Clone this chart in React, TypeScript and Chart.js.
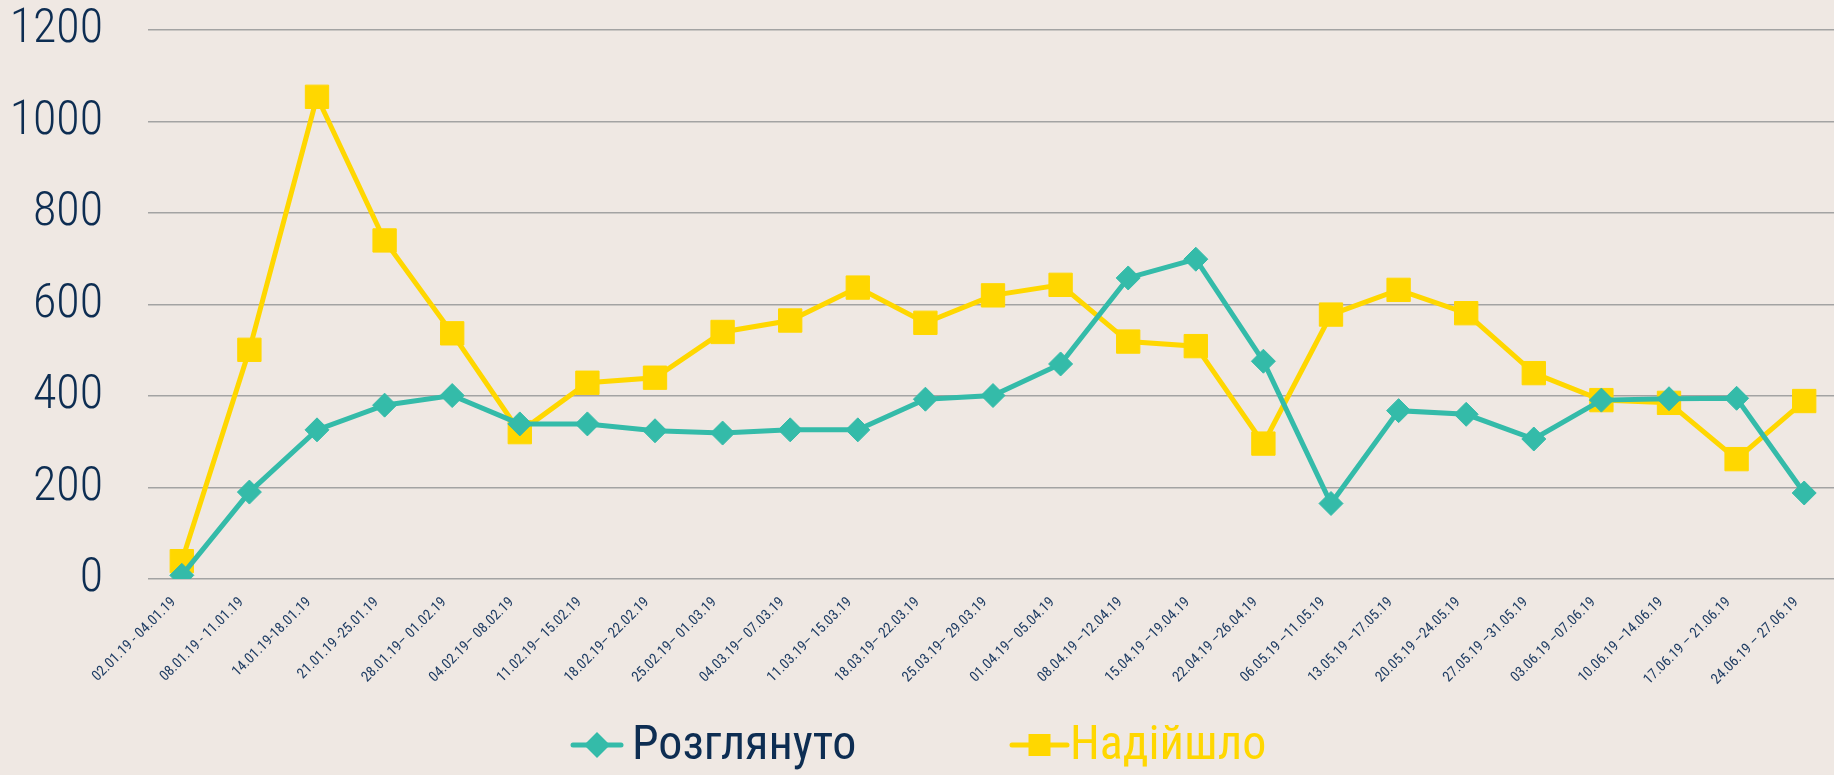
import React, { useEffect, useRef } from "react";
import { Chart, registerables } from "chart.js";

Chart.register(...registerables);

const categories = [
  "02.01.19 - 04.01.19",
  "08.01.19 - 11.01.19",
  "14.01.19-18.01.19",
  "21.01.19 -25.01.19",
  "28.01.19– 01.02.19",
  "04.02.19– 08.02.19",
  "11.02.19– 15.02.19",
  "18.02.19– 22.02.19",
  "25.02.19– 01.03.19",
  "04.03.19– 07.03.19",
  "11.03.19– 15.03.19",
  "18.03.19– 22.03.19",
  "25.03.19– 29.03.19",
  "01.04.19– 05.04.19",
  "08.04.19 –12.04.19",
  "15.04.19 –19.04.19",
  "22.04.19 –26.04.19",
  "06.05.19 –11.05.19",
  "13.05.19 –17.05.19",
  "20.05.19 –24.05.19",
  "27.05.19 –31.05.19",
  "03.06.19 –07.06.19",
  "10.06.19 –14.06.19",
  "17.06.19 – 21.06.19",
  "24.06.19 – 27.06.19",
];

const reviewed = [8, 190, 326, 380, 401, 339, 339, 324, 319, 326, 326, 393, 401, 470, 658, 699, 476, 165, 368, 360, 306, 391, 394, 395, 188];
const received = [39, 501, 1054, 740, 537, 321, 429, 440, 540, 565, 637, 560, 620, 643, 519, 509, 296, 578, 632, 581, 450, 391, 385, 262, 389];

const seriesNames = ["Розглянуто", "Надійшло"];
const yMin = 0;
const yMax = 1200;
const yStep = 200;

const TEAL = "#34bba9";
const YELLOW = "#ffd700";
const NAVY = "#0d2d52";
const BG = "#efe8e3";

// Excel-style plot area: category band extends slightly past the canvas edge
const PLOT_RIGHT = 1838;

const widenPlugin = {
  id: "widenPlot",
  afterLayout(chart: any) {
    chart.chartArea.right = PLOT_RIGHT;
    chart.chartArea.width = PLOT_RIGHT - chart.chartArea.left;
    const x = chart.scales.x;
    x.right = PLOT_RIGHT;
    x.width = PLOT_RIGHT - x.left;
    x.configure();
  },
};

const legendPlugin = {
  id: "customLegend",
  afterDraw(chart: any) {
    const ctx = chart.ctx;
    const y = 745;
    const items = [
      { lineX1: 573, lineX2: 621, textX: 632, color: TEAL, textColor: NAVY, style: "diamond", label: seriesNames[0] },
      { lineX1: 1012, lineX2: 1067, textX: 1070, color: YELLOW, textColor: YELLOW, style: "square", label: seriesNames[1] },
    ];
    ctx.save();
    items.forEach((it) => {
      ctx.strokeStyle = it.color;
      ctx.lineWidth = 5;
      ctx.lineCap = "round";
      ctx.beginPath();
      ctx.moveTo(it.lineX1, y);
      ctx.lineTo(it.lineX2, y);
      ctx.stroke();
      const cx = (it.lineX1 + it.lineX2) / 2;
      ctx.fillStyle = it.color;
      ctx.beginPath();
      if (it.style === "diamond") {
        const r = 13;
        ctx.moveTo(cx, y - r);
        ctx.lineTo(cx + r, y);
        ctx.lineTo(cx, y + r);
        ctx.lineTo(cx - r, y);
        ctx.closePath();
      } else {
        const s = 11;
        ctx.rect(cx - s, y - s, 2 * s, 2 * s);
      }
      ctx.fill();
      ctx.fillStyle = it.textColor;
      ctx.font = "condensed 48px Roboto";
      ctx.textAlign = "left";
      ctx.textBaseline = "middle";
      ctx.fillText(it.label, it.textX, y + 2);
    });
    ctx.restore();
  },
};

export default function App() {
  const ref = useRef<HTMLCanvasElement | null>(null);
  useEffect(() => {
    if (!ref.current) return;
    const chart = new Chart(ref.current, {
      type: "line",
      data: {
        labels: categories,
        datasets: [
          {
            label: seriesNames[0],
            data: reviewed,
            borderColor: TEAL,
            backgroundColor: TEAL,
            borderWidth: 5,
            pointStyle: "rectRot",
            pointRadius: 12,
            pointBorderWidth: 1,
            tension: 0,
          },
          {
            label: seriesNames[1],
            data: received,
            borderColor: YELLOW,
            backgroundColor: YELLOW,
            borderWidth: 5,
            pointStyle: "rect",
            pointRadius: 16.5,
            pointBorderWidth: 1,
            tension: 0,
          },
        ],
      },
      options: {
        animation: false,
        responsive: false,
        maintainAspectRatio: false,
        layout: { padding: { top: 30, left: 0, right: 0, bottom: 0 } },
        plugins: {
          legend: { display: false },
          tooltip: { enabled: false },
        },
        scales: {
          x: {
            offset: true,
            grid: { display: false },
            border: { display: false },
            ticks: {
              autoSkip: false,
              minRotation: 45,
              maxRotation: 45,
              padding: 7,
              labelOffset: -8,
              color: "#1f3d64",
              font: { family: "Roboto", weight: "condensed" as any, size: 14.5 },
            },
            afterFit: (scale: any) => {
              scale.height = 196;
              scale.paddingLeft = 0;
              scale.paddingRight = 0;
            },
          },
          y: {
            min: yMin,
            max: yMax,
            border: { display: false },
            grid: { color: "#a3a3a3", lineWidth: 1.5, drawTicks: false },
            ticks: {
              stepSize: yStep,
              padding: 45,
              color: NAVY,
              font: { family: "Roboto", weight: "300 condensed" as any, size: 48 },
              callback: (v: any) => String(v),
            },
            afterFit: (scale: any) => {
              scale.width = 148;
              scale.paddingTop = 0;
              scale.paddingBottom = 0;
            },
          },
        },
      },
      plugins: [widenPlugin, legendPlugin],
    });
    return () => chart.destroy();
  }, []);
  return (
    <div style={{ position: "fixed", left: 0, top: 0, width: 1834, height: 775, background: BG }}>
      <canvas ref={ref} width={1834} height={775} style={{ width: 1834, height: 775, display: "block" }} />
    </div>
  );
}
